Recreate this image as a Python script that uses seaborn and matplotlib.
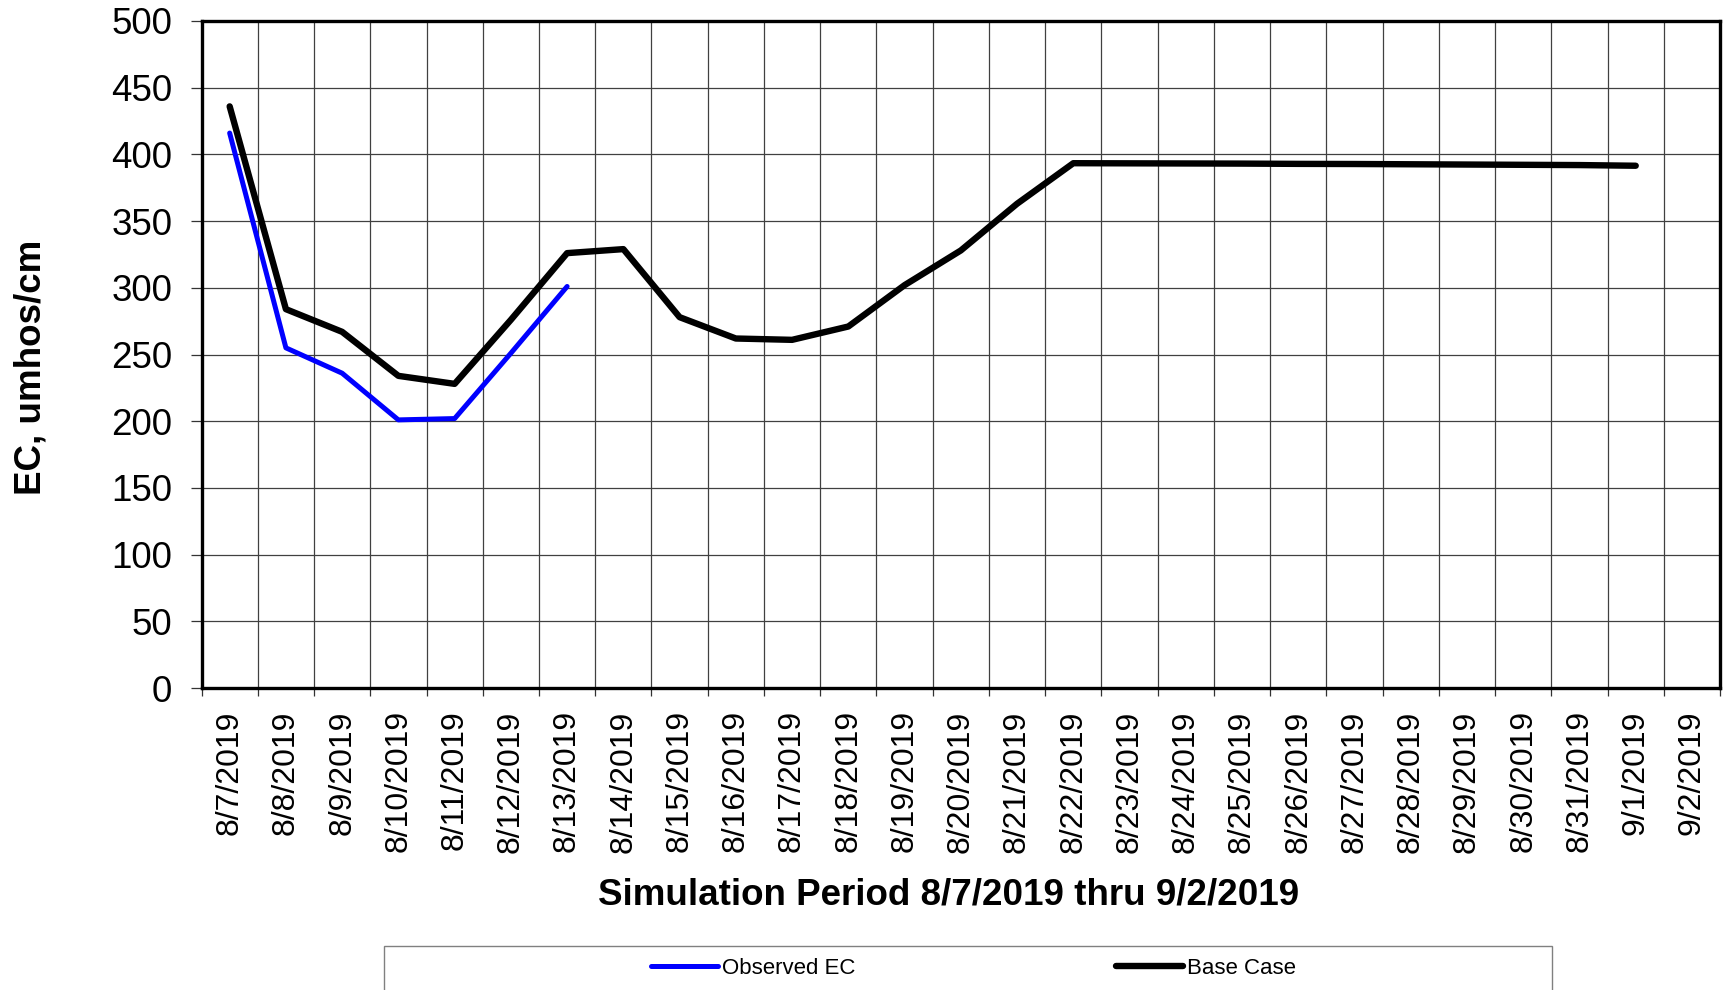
import numpy as np
import pandas as pd
import matplotlib.pyplot as plt
from matplotlib.patches import Rectangle
import seaborn as sns

# daily categories of the simulation period
dates = ['8/7/2019', '8/8/2019', '8/9/2019', '8/10/2019', '8/11/2019', '8/12/2019',
         '8/13/2019', '8/14/2019', '8/15/2019', '8/16/2019', '8/17/2019', '8/18/2019',
         '8/19/2019', '8/20/2019', '8/21/2019', '8/22/2019', '8/23/2019', '8/24/2019',
         '8/25/2019', '8/26/2019', '8/27/2019', '8/28/2019', '8/29/2019', '8/30/2019',
         '8/31/2019', '9/1/2019', '9/2/2019']

nan = np.nan
observed_ec = [416, 255, 236, 201, 202, 251, 301] + [nan] * 20
base_case = [436, 284, 267, 234, 228, 276, 326, 329, 278, 262, 261, 271, 302, 328,
             363, 393.4, 393.3, 393.2, 393.1, 392.9, 392.8, 392.6, 392.4, 392.2,
             392.0, 391.5, nan]

y_ticks = list(range(0, 501, 50))

df = pd.DataFrame({'Date': dates, 'Observed EC': observed_ec, 'Base Case': base_case})
df['pos'] = np.arange(len(df))

sns.set_style('ticks')
plt.rcParams['font.family'] = ['Liberation Sans', 'DejaVu Sans']
plt.rcParams['text.color'] = 'black'
plt.rcParams['axes.labelcolor'] = 'black'
plt.rcParams['xtick.color'] = 'black'
plt.rcParams['ytick.color'] = 'black'

fig = plt.figure(figsize=(17.27, 9.9), dpi=100)
ax = fig.add_axes([0.1167, 0.305, 0.8793, 0.6738])

sns.lineplot(data=df, x='pos', y='Observed EC', color='#0000ff', lw=3.6,
             label='Observed EC', ax=ax, solid_capstyle='round', zorder=3)
sns.lineplot(data=df, x='pos', y='Base Case', color='black', lw=4.6,
             label='Base Case', ax=ax, solid_capstyle='round', zorder=4)

n = len(dates)
ax.set_xlim(-0.5, n - 0.5)
ax.set_ylim(0, 500)
ax.set_yticks(y_ticks)
ax.set_xticks(np.arange(n + 1) - 0.5)
ax.set_xticks(np.arange(n), minor=True)
ax.set_xticklabels(dates, minor=True, rotation=90)

ax.tick_params(axis='x', which='major', length=6, width=0.9, color='#333333', labelbottom=False)
ax.tick_params(axis='x', which='minor', length=0, pad=16, labelsize=23, labelcolor='black')
ax.tick_params(axis='y', length=8, width=0.9, color='#333333', pad=13, labelsize=26.5,
               labelcolor='black')

ax.grid(True, which='major', axis='both', color='#404040', lw=0.9)
ax.set_axisbelow(True)
for s in ax.spines.values():
    s.set_visible(True)
    s.set_color('black')
    s.set_linewidth(2.4)

ax.set_xlabel('Simulation Period 8/7/2019 thru 9/2/2019', fontsize=26.5, fontweight='bold')
ax.xaxis.set_label_coords(0.4922, -0.3103)
ax.xaxis.label.set_va('center')
ax.set_ylabel('EC, umhos/cm', fontsize=26.5, fontweight='bold')
ax.yaxis.set_label_coords(-0.112, 0.48)
ax.yaxis.label.set_va('center')

handles, labels = ax.get_legend_handles_labels()
ax.get_legend().remove()
fig.legend(handles, labels, loc='center', bbox_to_anchor=(0.5638, 0.0222), ncol=2,
           frameon=False, fontsize=16, handlelength=3.0, handletextpad=0.2,
           columnspacing=11.7)
fig.add_artist(Rectangle((384.4 / 1727, -0.05), (1552 - 384.4) / 1727, 0.0944,
                         transform=fig.transFigure, fill=False, edgecolor='#808080',
                         lw=1, clip_on=False))

fig.savefig('out.png', dpi=100)
